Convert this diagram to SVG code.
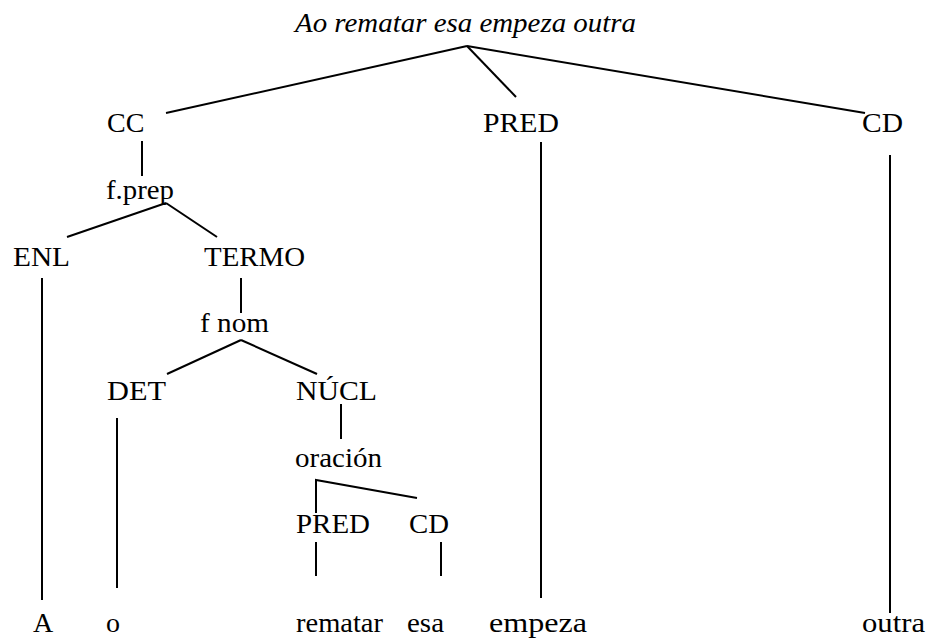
<svg xmlns="http://www.w3.org/2000/svg" width="926" height="641" viewBox="0 0 926 641" font-family="Liberation Serif, DejaVu Serif, serif">
<style>
text{font-size:28px;fill:#000}
.t{font-style:italic}
#connectors line,#connectors polyline{stroke:#000;stroke-width:2;fill:none}
</style>
<rect width="926" height="641" fill="#fff"/>
<g id="connectors">
<line x1="467" y1="46" x2="166" y2="113"/>
<line x1="467" y1="46" x2="516" y2="97"/>
<line x1="467" y1="46" x2="865" y2="113"/>
<line x1="142" y1="141" x2="142" y2="176"/>
<line x1="166" y1="203" x2="67" y2="237"/>
<line x1="166" y1="203" x2="217" y2="237"/>
<line x1="541" y1="142" x2="541" y2="598"/>
<line x1="890" y1="155" x2="890" y2="613"/>
<line x1="42" y1="278" x2="42" y2="600"/>
<line x1="241" y1="278" x2="241" y2="313"/>
<line x1="241" y1="340" x2="167" y2="374"/>
<line x1="241" y1="340" x2="317" y2="374"/>
<line x1="117" y1="418" x2="117" y2="588"/>
<line x1="341" y1="404" x2="341" y2="439"/>
<polyline points="316,513 316,480 417,498"/>
<line x1="316" y1="542" x2="316" y2="576"/>
<line x1="441" y1="542" x2="441" y2="576"/>
</g>
<g id="root"><text class="t" x="295" y="32" textLength="341" lengthAdjust="spacingAndGlyphs">Ao rematar esa empeza outra</text></g>
<g id="cc"><text x="107" y="132">CC</text></g>
<g id="pred"><text x="483" y="132" textLength="76" lengthAdjust="spacingAndGlyphs">PRED</text></g>
<g id="cd"><text x="862" y="132" textLength="41" lengthAdjust="spacingAndGlyphs">CD</text></g>
<g id="fprep"><text x="106" y="199" textLength="68" lengthAdjust="spacingAndGlyphs">f.prep</text></g>
<g id="enl"><text x="13" y="266" textLength="57" lengthAdjust="spacingAndGlyphs">ENL</text></g>
<g id="termo"><text x="204" y="266" textLength="101" lengthAdjust="spacingAndGlyphs">TERMO</text></g>
<g id="fnom"><text x="200" y="332" textLength="69" lengthAdjust="spacingAndGlyphs">f nom</text></g>
<g id="det"><text x="107" y="400" textLength="59" lengthAdjust="spacingAndGlyphs">DET</text></g>
<g id="nucl"><text x="296" y="400" textLength="81" lengthAdjust="spacingAndGlyphs">NÚCL</text></g>
<g id="oracion"><text x="295" y="467" textLength="87" lengthAdjust="spacingAndGlyphs">oración</text></g>
<g id="pred2"><text x="296" y="533" textLength="74" lengthAdjust="spacingAndGlyphs">PRED</text></g>
<g id="cd2"><text x="409" y="533" textLength="40" lengthAdjust="spacingAndGlyphs">CD</text></g>
<g id="w-a"><text x="33" y="632">A</text></g>
<g id="w-o"><text x="106" y="632">o</text></g>
<g id="w-rematar"><text x="296" y="632" textLength="87" lengthAdjust="spacingAndGlyphs">rematar</text></g>
<g id="w-esa"><text x="407" y="632" textLength="37" lengthAdjust="spacingAndGlyphs">esa</text></g>
<g id="w-empeza"><text x="489" y="632" textLength="98" lengthAdjust="spacingAndGlyphs">empeza</text></g>
<g id="w-outra"><text x="862" y="632" textLength="63" lengthAdjust="spacingAndGlyphs">outra</text></g>
</svg>
